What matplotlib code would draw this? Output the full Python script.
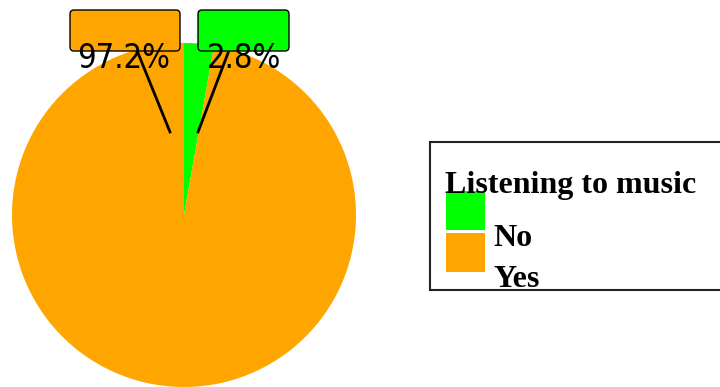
import matplotlib.pyplot as plt
from matplotlib.patches import FancyBboxPatch, Rectangle

# data
categories = ["No", "Yes"]
shares = [2.8, 97.2]
colors = ["#00ff00", "#ffa500"]
legend_title = "Listening to music"

W, H = 720, 387
fig = plt.figure(figsize=(W / 100, H / 100), dpi=100)

# pie: centre (184, 215) px, radius 172 px
cx, cy, r = 184, 215, 172
pie_ax = fig.add_axes([(cx - r) / W, (H - cy - r) / H, 2 * r / W, 2 * r / H])
pie_ax.pie(shares, colors=colors, startangle=90, counterclock=False, radius=1.0,
           wedgeprops=dict(linewidth=0))
pie_ax.set_xlim(-1, 1)
pie_ax.set_ylim(-1, 1)
pie_ax.set_axis_off()

# overlay in pixel coordinates for labels and legend
ov = fig.add_axes([0, 0, 1, 1])
ov.set_xlim(0, W)
ov.set_ylim(H, 0)
ov.set_axis_off()

# label boxes (Yes on the left, No on the right)
label_boxes = {"Yes": (70, 10, 110, 41), "No": (198, 10, 91, 41)}
label_text = {"Yes": (124, 68), "No": (244, 68)}
leader = {"Yes": ((170, 132), (138, 53)), "No": ((198, 132), (228, 53))}
for cat, val, col in zip(categories, shares, colors):
    x, y, w, h = label_boxes[cat]
    ov.add_patch(FancyBboxPatch((x, y), w, h, boxstyle="round,pad=0,rounding_size=4",
                                facecolor=col, edgecolor="black", linewidth=1.0, zorder=2))
    (x0, y0), (x1, y1) = leader[cat]
    ov.plot([x0, x1], [y0, y1], color="black", linewidth=2, zorder=3)
    tx, ty = label_text[cat]
    ov.text(tx, ty, f"{val}%", fontsize=23.5, family="DejaVu Sans",
            fontstretch="condensed", ha="center", va="baseline", color="black",
            zorder=4)

# legend
ov.add_patch(Rectangle((430, 142), 300, 148, facecolor="white", edgecolor="#222222",
                       linewidth=1.5, zorder=1))
ov.text(445, 193, legend_title, fontsize=23, family="Liberation Serif",
        fontweight="bold", ha="left", va="baseline", zorder=4)
for i, (cat, col) in enumerate(zip(categories, colors)):
    top = 191 + i * 42
    ov.add_patch(Rectangle((446, top), 39, 39, facecolor=col, edgecolor="none", zorder=2))
    ov.text(493, 246 + i * 41, cat, fontsize=23, family="Liberation Serif",
            fontweight="bold", ha="left", va="baseline", zorder=4)

fig.savefig("out.png", dpi=100)
